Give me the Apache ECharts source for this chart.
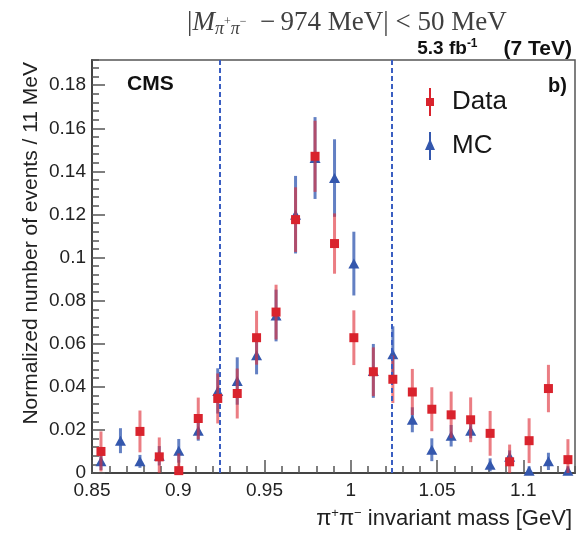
<!DOCTYPE html>
<html>
<head>
<meta charset="utf-8">
<script src="https://cdn.jsdelivr.net/npm/echarts@6/dist/echarts.min.js"></script>
<style>
  html, body { margin: 0; padding: 0; background: #ffffff; }
  #chart { width: 578px; height: 536px; }
</style>
</head>
<body>
<div id="chart"></div>
<script>
// Bin centres of the pi+pi- invariant mass histogram [GeV]
const binCenters = [0.8552, 0.8665, 0.8778, 0.8890, 0.9003, 0.9116, 0.9229, 0.9342, 0.9454,
                    0.9567, 0.9680, 0.9793, 0.9906, 1.0018, 1.0131, 1.0244, 1.0357, 1.0470,
                    1.0582, 1.0695, 1.0808, 1.0921, 1.1034, 1.1146, 1.1259];

// Data: normalized content per bin and its uncertainty (null = empty bin)
const dataY   = [0.0100, null, 0.0193, 0.0075, 0.0011, 0.0253, 0.0346, 0.0369, 0.0628,
                 0.0747, 0.1176, 0.1470, 0.1065, 0.0628, 0.0470, 0.0435, 0.0376, 0.0296,
                 0.0270, 0.0247, 0.0184, 0.0052, 0.0150, 0.0392, 0.0062];
const dataErr = [0.0093, null, 0.0097, 0.0090, 0.0080, 0.0097, 0.0116, 0.0116, 0.0125,
                 0.0127, 0.0150, 0.0165, 0.0140, 0.0127, 0.0113, 0.0110, 0.0107, 0.0102,
                 0.0108, 0.0104, 0.0104, 0.0080, 0.0104, 0.0110, 0.0095];

// Simulation
const mcY   = [0.0054, 0.0150, 0.0054, 0.0080, 0.0103, 0.0196, 0.0381, 0.0427, 0.0546,
               0.0731, 0.1199, 0.1462, 0.1369, 0.0972, 0.0474, 0.0551, 0.0247, 0.0108,
               0.0173, 0.0196, 0.0038, 0.0075, 0.0011, 0.0054, 0.0011];
const mcErr = [0.0040, 0.0058, 0.0030, 0.0045, 0.0055, 0.0046, 0.0105, 0.0110, 0.0088,
               0.0120, 0.0180, 0.0190, 0.0180, 0.0148, 0.0125, 0.0130, 0.0058, 0.0053,
               0.0050, 0.0035, 0.0030, 0.0030, 0.0020, 0.0040, 0.0020];

// Mass window edges: 974 MeV +- 50 MeV
const cutLines = [0.924, 1.024];

// Axis ranges and tick steps
const xRange = [0.85, 1.13];
const xMajorStep = 0.05, xMinorStep = 0.01;
const yRange = [0, 0.1917];
const yMajorStep = 0.02, yMinorStep = 0.004;

const RED = '#d9232d', RED_BAR = 'rgba(222,45,55,0.62)';
const BLUE = '#3457ad', BLUE_BAR = 'rgba(55,92,178,0.78)';
const SANS = '"Liberation Sans", Arial, sans-serif';
const SERIF = '"Liberation Serif", "Times New Roman", serif';

function points(ys) {
  return binCenters.map((x, i) => ys[i] == null ? null : [x, ys[i]]).filter(Boolean);
}
function withErrors(ys, errs) {
  return binCenters.map((x, i) => ys[i] == null ? null : [x, ys[i], errs[i]]).filter(Boolean);
}
// Vertical error bar, clipped to the plotting frame
function errorBar(color) {
  return function (params, api) {
    const x = api.value(0), y = api.value(1), e = api.value(2);
    const cs = params.coordSys;
    const top = api.coord([x, y + e]);
    const bot = api.coord([x, y - e]);
    return {
      type: 'line',
      silent: true,
      shape: {
        x1: top[0], y1: Math.max(cs.y, top[1]),
        x2: bot[0], y2: Math.min(cs.y + cs.height, bot[1])
      },
      style: { stroke: color, lineWidth: 3 }
    };
  };
}

const chart = echarts.init(document.getElementById('chart'), null, { renderer: 'canvas' });

const frameLine = { color: '#444', width: 2 };
const tickLine = { color: '#555', width: 1.5 };
const titleInk = '#404040';

chart.setOption({
  animation: false,
  backgroundColor: '#ffffff',
  title: [
    {
      text: '{m||}{it|M}{sub|π}{sup|+}{sub|π}{sup|−}{m|  −\u2009974 MeV| < 50 MeV}',
      left: 182, top: 1,
      textStyle: {
        rich: {
          m:   { fontFamily: SERIF, fontSize: 27, fontWeight: 'normal', color: titleInk, lineHeight: 33 },
          it:  { fontFamily: SERIF, fontSize: 27, fontWeight: 'normal', fontStyle: 'italic', color: titleInk, lineHeight: 33 },
          sub: { fontFamily: SERIF, fontSize: 18, fontWeight: 'normal', fontStyle: 'italic', color: titleInk, lineHeight: 33, padding: [14, 0, 0, 0] },
          sup: { fontFamily: SERIF, fontSize: 12, fontWeight: 'normal', color: titleInk, lineHeight: 33, padding: [0, 0, 2, 0] }
        }
      }
    },
    {
      text: '{b|5.3 fb}{s|-1}{c|(7 TeV)}',
      right: 1, top: 33,
      textStyle: {
        rich: {
          b: { fontFamily: SANS, fontSize: 19, fontWeight: 'bold', color: '#111', lineHeight: 22 },
          s: { fontFamily: SANS, fontSize: 12, fontWeight: 'bold', color: '#111', lineHeight: 22, padding: [0, 0, 10, 0] },
          c: { fontFamily: SANS, fontSize: 21, fontWeight: 'bold', color: '#111', lineHeight: 22, padding: [0, 0, 0, 26] }
        }
      }
    }
  ],
  grid: {
    left: 92, right: 3, top: 60, bottom: 63,
    show: true, borderColor: '#555', borderWidth: 1.5, backgroundColor: 'transparent'
  },
  legend: {
    orient: 'vertical',
    left: 420, top: 83,
    itemWidth: 34, itemHeight: 28, itemGap: 16,
    selectedMode: false,
    textStyle: { fontFamily: SANS, fontSize: 26, color: '#161616' },
    data: [
      { name: 'Data', icon: 'path://M3,0 H5 V10 H8 V18 H5 V28 H3 V18 H0 V10 H3 Z' },
      { name: 'MC',   icon: 'path://M4,0 H6 V9 L10,18 H6 V28 H4 V18 H0 L4,9 Z' }
    ]
  },
  xAxis: [
    {
      type: 'value', min: xRange[0], max: xRange[1], interval: xMajorStep, position: 'bottom',
      axisLine: { show: true, lineStyle: frameLine },
      axisTick: { show: true, inside: true, length: 13, lineStyle: tickLine },
      axisLabel: { showMaxLabel: false, margin: 8, fontFamily: SANS, fontSize: 19, color: '#222' },
      splitLine: { show: false },
      name: '{g|π}{s|+}{g|π}{s|−}{g| invariant mass [GeV]}',
      nameLocation: 'end', nameGap: -3,
      nameTextStyle: {
        align: 'right', verticalAlign: 'top', padding: [33, 0, 0, 0],
        rich: {
          g: { fontFamily: SANS, fontSize: 22, color: '#222', lineHeight: 26 },
          s: { fontFamily: SANS, fontSize: 13, color: '#222', lineHeight: 26, padding: [0, 0, 12, 0] }
        }
      }
    },
    {
      type: 'value', min: xRange[0], max: xRange[1], interval: xMinorStep, position: 'bottom',
      axisLine: { show: false },
      axisTick: { show: true, inside: true, length: 7, lineStyle: tickLine },
      axisLabel: { show: false },
      splitLine: { show: false }
    }
  ],
  yAxis: [
    {
      type: 'value', min: yRange[0], max: yRange[1], interval: yMajorStep, position: 'left',
      axisLine: { show: true, lineStyle: frameLine },
      axisTick: { show: true, inside: true, length: 13, lineStyle: tickLine },
      axisLabel: { showMaxLabel: false, margin: 6, fontFamily: SANS, fontSize: 19, color: '#222' },
      splitLine: { show: false }
    },
    {
      type: 'value', min: yRange[0], max: yRange[1], interval: yMinorStep, position: 'left',
      axisLine: { show: false },
      axisTick: { show: true, inside: true, length: 7, lineStyle: tickLine },
      axisLabel: { show: false },
      splitLine: { show: false }
    }
  ],
  graphic: [
    {
      type: 'text', x: 127, y: 74,
      style: { text: 'CMS', font: 'bold 21px ' + SANS, fill: '#111' }
    },
    {
      type: 'text', x: 567, y: 76,
      style: { text: 'b)', font: 'bold 20px ' + SANS, fill: '#111', align: 'right' }
    },
    {
      type: 'text', x: 31, y: 62, rotation: Math.PI / 2,
      style: {
        text: 'Normalized number of events / 11 MeV',
        font: '21px ' + SANS, fill: '#222', align: 'right', verticalAlign: 'middle'
      }
    }
  ],
  series: [
    {
      name: 'window', type: 'line', data: [], silent: true,
      markLine: {
        silent: true, precision: 4, symbol: ['none', 'none'], label: { show: false },
        lineStyle: { color: '#3a5ec2', type: [5, 3], width: 2 },
        data: cutLines.map(v => ({ xAxis: v }))
      }
    },
    {
      name: 'MC errors', type: 'custom', renderItem: errorBar(BLUE_BAR),
      data: withErrors(mcY, mcErr), encode: { x: 0, y: 1 }, z: 2
    },
    {
      name: 'MC', type: 'scatter', data: points(mcY),
      symbol: 'triangle', symbolSize: [11, 10],
      itemStyle: { color: BLUE, opacity: 1 }, z: 3
    },
    {
      name: 'Data errors', type: 'custom', renderItem: errorBar(RED_BAR),
      data: withErrors(dataY, dataErr), encode: { x: 0, y: 1 }, z: 4
    },
    {
      name: 'Data', type: 'scatter', data: points(dataY),
      symbol: 'rect', symbolSize: 9,
      itemStyle: { color: RED, opacity: 1 }, z: 5
    }
  ]
});
</script>
</body>
</html>
